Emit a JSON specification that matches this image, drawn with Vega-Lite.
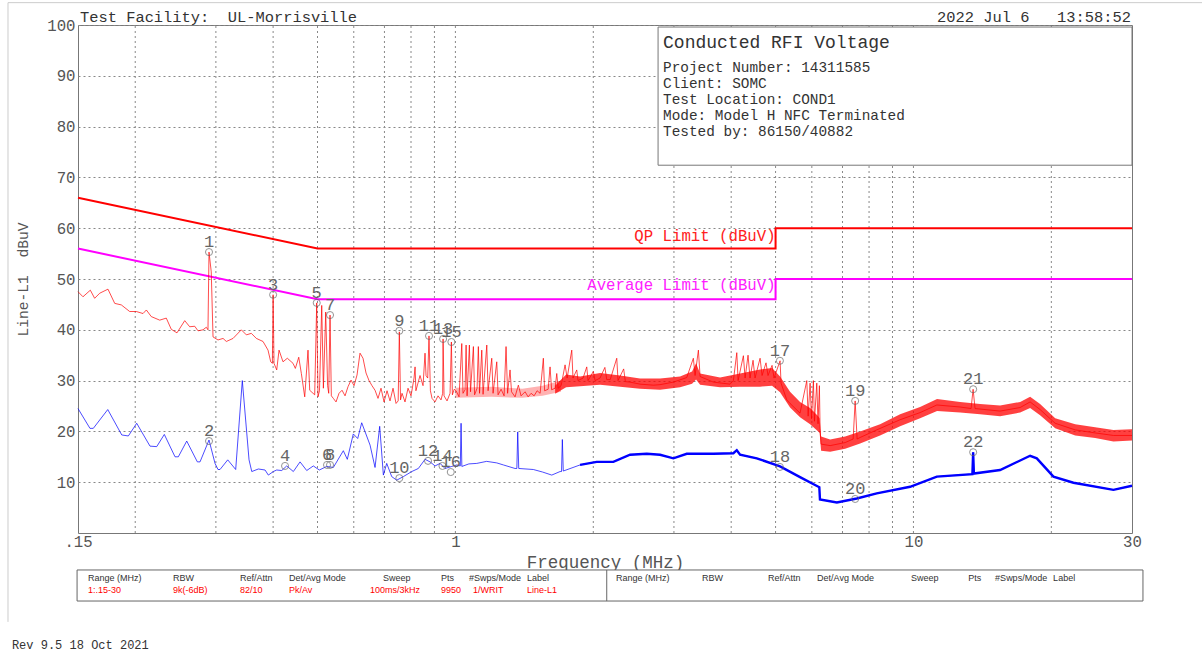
{
"$schema":"https://vega.github.io/schema/vega-lite/v6.json",
"width":1054,"height":508,"autosize":"none",
"padding":{"left":78,"top":25,"right":70,"bottom":121},
"background":"white",
"config":{"view":{"stroke":"#777","strokeWidth":1},
"axis":{"labelFont":"Liberation Mono","labelFontSize":15.7,"labelColor":"#555","titleFont":"Liberation Mono","titleFontWeight":"normal","titleColor":"#555"},
"axisX":{"titleFontSize":17.5},"axisY":{"titleFontSize":14.6}},
"datasets":{
"xgrid":[{"f":0.2,"v":0,"v2":100},{"f":0.3,"v":0,"v2":100},{"f":0.4,"v":0,"v2":100},{"f":0.5,"v":0,"v2":100},{"f":0.6,"v":0,"v2":100},{"f":0.7,"v":0,"v2":100},{"f":0.8,"v":0,"v2":100},{"f":0.9,"v":0,"v2":100},{"f":1,"v":0,"v2":100},{"f":2,"v":0,"v2":100},{"f":3,"v":0,"v2":100},{"f":4,"v":0,"v2":100},{"f":5,"v":0,"v2":100},{"f":6,"v":0,"v2":100},{"f":7,"v":0,"v2":100},{"f":8,"v":0,"v2":100},{"f":9,"v":0,"v2":100},{"f":10,"v":0,"v2":100},{"f":20,"v":0,"v2":100}],
"qp":[{"f":0.15,"v":66,"o":1},{"f":0.5,"v":56,"o":2},{"f":5,"v":56,"o":3},{"f":5,"v":60,"o":4},{"f":30,"v":60,"o":5}],
"avg":[{"f":0.15,"v":56,"o":1},{"f":0.5,"v":46,"o":2},{"f":5,"v":46,"o":3},{"f":5,"v":50,"o":4},{"f":30,"v":50,"o":5}],
"infobox":[{"f":2.77,"f2":30,"v":99.6,"v2":72.4}],
"infotitle":[{"f":2.84,"v":96.4,"t":"Conducted RFI Voltage"}],
"info":[{"f":2.84,"v":91.6,"t":"Project Number: 14311585"},{"f":2.84,"v":88.3,"t":"Client: SOMC"},{"f":2.84,"v":85.2,"t":"Test Location: COND1"},{"f":2.84,"v":82.1,"t":"Mode: Model H NFC Terminated"},{"f":2.84,"v":79.0,"t":"Tested by: 86150/40882"}],
"headl":[{"f":0.1515,"v":101.6,"t":"Test Facility:\u00a0\u00a0UL-Morrisville"}],
"footer":[{"f":0.1076,"v":-22.0,"t":"Rev 9.5 18 Oct 2021"}],
"headr":[{"f":29.85,"v":101.6,"t":"2022 Jul 6\u00a0\u00a0\u00a013:58:52"}],
"qplab":[{"f":5.0,"v":58.5,"t":"QP Limit (dBuV)"}],
"avlab":[{"f":5.0,"v":48.8,"t":"Average Limit (dBuV)"}],
"blue":[{"f":0.15,"v":24.5},{"f":0.1593,"v":20.6},{"f":0.162,"v":20.6},{"f":0.1742,"v":24.3},{"f":0.1869,"v":19.3},{"f":0.1932,"v":19.1},{"f":0.2015,"v":21.6},{"f":0.2154,"v":17.1},{"f":0.2228,"v":17.0},{"f":0.2315,"v":19.4},{"f":0.2443,"v":15.0},{"f":0.2484,"v":15.0},{"f":0.2591,"v":18.1},{"f":0.2733,"v":14.0},{"f":0.277,"v":14.0},{"f":0.2898,"v":18.3},{"f":0.2987,"v":13.7},{"f":0.3032,"v":12.5},{"f":0.3063,"v":12.5},{"f":0.3184,"v":14.4},{"f":0.3314,"v":12.5},{"f":0.3426,"v":30.0},{"f":0.3544,"v":14.4},{"f":0.3593,"v":12.1},{"f":0.3714,"v":12.6},{"f":0.3841,"v":12.4},{"f":0.3905,"v":11.4},{"f":0.4004,"v":12.1},{"f":0.4073,"v":12.4},{"f":0.4177,"v":12.3},{"f":0.4283,"v":13.2},{"f":0.4428,"v":12.1},{"f":0.458,"v":14.0},{"f":0.4736,"v":12.3},{"f":0.4896,"v":13.2},{"f":0.5046,"v":12.4},{"f":0.5237,"v":13.1},{"f":0.5414,"v":12.9},{"f":0.5693,"v":16.2},{"f":0.5808,"v":14.5},{"f":0.5986,"v":19.5},{"f":0.612,"v":18.6},{"f":0.6244,"v":21.7},{"f":0.6512,"v":17.3},{"f":0.6677,"v":12.9},{"f":0.6835,"v":21.0},{"f":0.6962,"v":11.4},{"f":0.7081,"v":13.7},{"f":0.7261,"v":11.1},{"f":0.7446,"v":10.4},{"f":0.7698,"v":11.1},{"f":0.803,"v":12.1},{"f":0.8301,"v":12.7},{"f":0.8584,"v":14.5},{"f":0.8804,"v":14.0},{"f":0.9029,"v":13.2},{"f":0.9258,"v":13.7},{"f":0.9493,"v":12.7},{"f":0.9818,"v":13.1},{"f":1.007,"v":13.4},{"f":1.025,"v":13.2},{"f":1.0289,"v":21.6},{"f":1.033,"v":13.1},{"f":1.07,"v":13.6},{"f":1.1135,"v":13.7},{"f":1.17,"v":14.1},{"f":1.2311,"v":13.8},{"f":1.2726,"v":13.4},{"f":1.3496,"v":12.7},{"f":1.362,"v":12.7},{"f":1.368,"v":19.9},{"f":1.375,"v":12.7},{"f":1.4798,"v":12.5},{"f":1.55,"v":12.0},{"f":1.6233,"v":11.4},{"f":1.6924,"v":12.1},{"f":1.705,"v":12.1},{"f":1.712,"v":18.4},{"f":1.72,"v":12.2},{"f":1.8714,"v":13.4},{"f":2.035,"v":14.0},{"f":2.2123,"v":14.0},{"f":2.406,"v":15.4},{"f":2.617,"v":15.6},{"f":2.7978,"v":15.4},{"f":2.9916,"v":14.7},{"f":3.1995,"v":15.6},{"f":3.6576,"v":15.6},{"f":4.0449,"v":15.7},{"f":4.1144,"v":16.3},{"f":4.1832,"v":15.4},{"f":4.5498,"v":14.7},{"f":5.1144,"v":13.1},{"f":5.6546,"v":11.0},{"f":6.2012,"v":9.1},{"f":6.23,"v":9.0},{"f":6.25,"v":6.6},{"f":6.8043,"v":6.0},{"f":7.5227,"v":6.8},{"f":8.3154,"v":7.8},{"f":9.833,"v":9.1},{"f":11.248,"v":11.1},{"f":13.45,"v":11.6},{"f":13.5,"v":15.9},{"f":13.55,"v":11.7},{"f":15.459,"v":12.4},{"f":17.976,"v":15.2},{"f":18.59,"v":14.7},{"f":20.21,"v":11.1},{"f":22.35,"v":9.9},{"f":27.33,"v":8.5},{"f":30,"v":9.3}],
"red":[{"f":0.15,"v":47.5},{"f":0.1538,"v":46.5},{"f":0.1596,"v":47.8},{"f":0.1631,"v":46.2},{"f":0.1673,"v":47.2},{"f":0.1744,"v":48.0},{"f":0.1804,"v":45.2},{"f":0.1865,"v":44.9},{"f":0.1945,"v":43.6},{"f":0.2011,"v":43.6},{"f":0.208,"v":43.2},{"f":0.2115,"v":43.9},{"f":0.2168,"v":42.6},{"f":0.2262,"v":41.9},{"f":0.2338,"v":42.3},{"f":0.2397,"v":40.1},{"f":0.2467,"v":39.4},{"f":0.2565,"v":41.8},{"f":0.263,"v":40.6},{"f":0.2697,"v":40.7},{"f":0.2742,"v":39.8},{"f":0.2812,"v":40.0},{"f":0.2859,"v":40.5},{"f":0.2883,"v":40.0},{"f":0.2898,"v":55.3},{"f":0.2931,"v":51.4},{"f":0.2957,"v":38.6},{"f":0.3032,"v":38.0},{"f":0.311,"v":38.3},{"f":0.3162,"v":37.7},{"f":0.327,"v":38.3},{"f":0.3409,"v":40.0},{"f":0.3497,"v":39.0},{"f":0.3585,"v":39.3},{"f":0.3677,"v":38.3},{"f":0.3802,"v":37.7},{"f":0.3899,"v":36.0},{"f":0.3952,"v":33.7},{"f":0.3985,"v":33.4},{"f":0.4,"v":46.9},{"f":0.4018,"v":33.4},{"f":0.4073,"v":32.1},{"f":0.4121,"v":36.0},{"f":0.4204,"v":33.7},{"f":0.4296,"v":34.4},{"f":0.4421,"v":33.4},{"f":0.4473,"v":32.4},{"f":0.455,"v":34.6},{"f":0.461,"v":31.4},{"f":0.4689,"v":26.8},{"f":0.4767,"v":36.0},{"f":0.4808,"v":28.1},{"f":0.493,"v":27.2},{"f":0.498,"v":45.3},{"f":0.5013,"v":26.8},{"f":0.505,"v":28.0},{"f":0.5107,"v":44.8},{"f":0.515,"v":28.5},{"f":0.5211,"v":43.5},{"f":0.526,"v":29.0},{"f":0.529,"v":27.5},{"f":0.5325,"v":42.9},{"f":0.536,"v":27.0},{"f":0.5414,"v":26.5},{"f":0.5488,"v":25.8},{"f":0.5571,"v":27.5},{"f":0.5656,"v":28.1},{"f":0.5742,"v":27.0},{"f":0.5829,"v":28.8},{"f":0.5918,"v":30.1},{"f":0.6008,"v":29.0},{"f":0.6099,"v":31.1},{"f":0.6191,"v":35.4},{"f":0.6285,"v":34.4},{"f":0.6381,"v":31.5},{"f":0.6478,"v":30.0},{"f":0.6576,"v":29.0},{"f":0.6677,"v":28.1},{"f":0.6778,"v":26.5},{"f":0.6881,"v":28.5},{"f":0.6986,"v":25.8},{"f":0.7092,"v":28.0},{"f":0.7199,"v":26.0},{"f":0.7309,"v":28.5},{"f":0.742,"v":25.5},{"f":0.75,"v":26.0},{"f":0.7544,"v":39.6},{"f":0.759,"v":26.2},{"f":0.7647,"v":27.5},{"f":0.7763,"v":25.8},{"f":0.7881,"v":28.5},{"f":0.8001,"v":27.0},{"f":0.8123,"v":30.5},{"f":0.8165,"v":32.7},{"f":0.82,"v":28.0},{"f":0.8371,"v":31.0},{"f":0.8499,"v":29.0},{"f":0.8584,"v":35.4},{"f":0.8628,"v":31.0},{"f":0.87,"v":30.5},{"f":0.8758,"v":38.8},{"f":0.882,"v":28.0},{"f":0.8892,"v":26.5},{"f":0.9027,"v":25.8},{"f":0.9164,"v":27.0},{"f":0.9304,"v":26.2},{"f":0.938,"v":27.5},{"f":0.94,"v":38.2},{"f":0.9445,"v":27.0},{"f":0.9589,"v":26.0},{"f":0.9735,"v":27.5},{"f":0.98,"v":37.6},{"f":0.985,"v":27.2},{"f":0.994,"v":28.3},{"f":1.0033,"v":28.0},{"f":1.0186,"v":26.8},{"f":1.0326,"v":37.3},{"f":1.039,"v":27.5},{"f":1.0498,"v":28.2},{"f":1.0553,"v":37.0},{"f":1.0605,"v":27.0},{"f":1.0729,"v":37.0},{"f":1.079,"v":27.8},{"f":1.0947,"v":36.7},{"f":1.1013,"v":27.2},{"f":1.1151,"v":28.5},{"f":1.1223,"v":36.7},{"f":1.129,"v":27.5},{"f":1.1418,"v":36.0},{"f":1.1493,"v":27.3},{"f":1.1709,"v":37.0},{"f":1.1786,"v":28.0},{"f":1.2006,"v":34.4},{"f":1.2085,"v":27.5},{"f":1.2311,"v":33.7},{"f":1.2394,"v":27.2},{"f":1.2583,"v":28.3},{"f":1.2774,"v":27.0},{"f":1.29,"v":36.7},{"f":1.3,"v":27.5},{"f":1.3161,"v":32.1},{"f":1.326,"v":27.8},{"f":1.3496,"v":26.8},{"f":1.3723,"v":29.1},{"f":1.391,"v":27.0},{"f":1.4197,"v":27.8},{"f":1.4413,"v":26.8},{"f":1.4632,"v":27.5},{"f":1.4854,"v":27.0},{"f":1.508,"v":28.0},{"f":1.5309,"v":27.5},{"f":1.556,"v":34.4},{"f":1.566,"v":28.0},{"f":1.594,"v":28.3},{"f":1.6094,"v":32.7},{"f":1.622,"v":28.2},{"f":1.6509,"v":28.5},{"f":1.6645,"v":31.4},{"f":1.676,"v":28.5},{"f":1.7015,"v":29.0},{"f":1.7355,"v":33.1},{"f":1.7536,"v":30.5},{"f":1.7948,"v":36.0},{"f":1.806,"v":30.5},{"f":1.8406,"v":32.1},{"f":1.852,"v":30.0},{"f":1.9,"v":30.5},{"f":1.9354,"v":32.7},{"f":1.948,"v":30.0},{"f":2.0007,"v":31.8},{"f":2.018,"v":30.0},{"f":2.0691,"v":30.5},{"f":2.12,"v":32.6},{"f":2.14,"v":30.2},{"f":2.178,"v":30.2},{"f":2.2504,"v":34.4},{"f":2.265,"v":30.0},{"f":2.33,"v":32.3},{"f":2.35,"v":29.8},{"f":2.406,"v":29.7},{"f":2.5305,"v":29.3},{"f":2.7053,"v":29.1},{"f":2.7978,"v":29.2},{"f":2.9916,"v":29.7},{"f":3.1995,"v":30.6},{"f":3.3075,"v":34.4},{"f":3.336,"v":31.0},{"f":3.3924,"v":36.0},{"f":3.4215,"v":30.8},{"f":3.6576,"v":29.7},{"f":3.9783,"v":29.3},{"f":4.0449,"v":30.0},{"f":4.1144,"v":35.5},{"f":4.142,"v":30.0},{"f":4.2533,"v":34.9},{"f":4.29,"v":30.5},{"f":4.354,"v":35.0},{"f":4.398,"v":30.5},{"f":4.465,"v":34.0},{"f":4.51,"v":30.5},{"f":4.6259,"v":34.4},{"f":4.672,"v":31.0},{"f":4.766,"v":33.5},{"f":4.814,"v":31.0},{"f":4.9125,"v":33.0},{"f":4.962,"v":30.5},{"f":5.1144,"v":33.9},{"f":5.14,"v":29.5},{"f":5.2893,"v":26.2},{"f":5.3777,"v":25.5},{"f":5.6546,"v":23.6},{"f":5.85,"v":30.0},{"f":5.89,"v":23.0},{"f":5.9478,"v":29.5},{"f":5.99,"v":22.5},{"f":6.0474,"v":30.0},{"f":6.08,"v":22.0},{"f":6.1514,"v":29.5},{"f":6.19,"v":21.5},{"f":6.2327,"v":29.0},{"f":6.2543,"v":20.5},{"f":6.2859,"v":17.5},{"f":6.578,"v":17.2},{"f":7.0944,"v":17.8},{"f":7.385,"v":18.5},{"f":7.4595,"v":26.0},{"f":7.534,"v":18.5},{"f":7.6485,"v":18.8},{"f":8.3154,"v":20.3},{"f":9.3515,"v":22.3},{"f":10.3395,"v":23.7},{"f":11.248,"v":25.2},{"f":12.645,"v":24.8},{"f":13.36,"v":24.5},{"f":13.497,"v":28.3},{"f":13.63,"v":24.5},{"f":15.459,"v":24.0},{"f":17.1,"v":24.7},{"f":17.976,"v":25.8},{"f":18.9,"v":24.3},{"f":20.39,"v":21.6},{"f":22.55,"v":20.3},{"f":24.93,"v":19.7},{"f":27.33,"v":19.2},{"f":30,"v":19.2}],
"band1":[{"f":1.0,"v":26.6,"v2":28.6},{"f":1.2,"v":26.8,"v2":28.8},{"f":1.4,"v":26.6,"v2":28.4},{"f":1.55,"v":27.0,"v2":29.0},{"f":1.7,"v":27.8,"v2":30.0}],
"band2":[{"f":1.6509,"v":27.4,"v2":29.0},{"f":1.7448,"v":28.7,"v2":31.2},{"f":1.8714,"v":28.9,"v2":30.8},{"f":2.0691,"v":29.2,"v2":31.5},{"f":2.2881,"v":28.8,"v2":31.0},{"f":2.5305,"v":28.4,"v2":30.4},{"f":2.7978,"v":28.2,"v2":30.4},{"f":3.0938,"v":28.7,"v2":30.8},{"f":3.2862,"v":29.4,"v2":31.8},{"f":3.3528,"v":30.2,"v2":33.4},{"f":3.4215,"v":29.2,"v2":31.4},{"f":3.7827,"v":28.7,"v2":30.6},{"f":4.1832,"v":28.8,"v2":31.4},{"f":4.6259,"v":28.8,"v2":32.2},{"f":4.9125,"v":29.0,"v2":32.5},{"f":5.1144,"v":27.7,"v2":30.8},{"f":5.3777,"v":24.7,"v2":27.8},{"f":5.6546,"v":22.8,"v2":25.8},{"f":5.9478,"v":21.4,"v2":24.6},{"f":6.195,"v":20.0,"v2":23.0},{"f":6.24,"v":19.7,"v2":22.6},{"f":6.2859,"v":16.2,"v2":19.0},{"f":6.578,"v":16.0,"v2":18.4},{"f":7.0944,"v":16.6,"v2":19.0},{"f":7.6485,"v":17.6,"v2":20.0},{"f":8.4546,"v":19.2,"v2":21.4},{"f":9.3515,"v":21.0,"v2":23.4},{"f":10.3395,"v":22.6,"v2":24.8},{"f":11.26,"v":24.0,"v2":26.4},{"f":12.645,"v":23.7,"v2":25.8},{"f":13.98,"v":23.4,"v2":25.4},{"f":15.459,"v":23.0,"v2":25.1},{"f":17.1,"v":23.7,"v2":25.8},{"f":17.976,"v":24.6,"v2":26.8},{"f":18.9,"v":23.2,"v2":25.4},{"f":20.39,"v":20.6,"v2":22.6},{"f":22.55,"v":19.2,"v2":21.4},{"f":24.93,"v":18.7,"v2":20.8},{"f":27.33,"v":18.0,"v2":20.3},{"f":30,"v":18.2,"v2":20.4}],
"markers":[{"n":"1","f":0.2898,"v":55.3},{"n":"2","f":0.2898,"v":18.1},{"n":"3","f":0.4,"v":46.9},{"n":"4","f":0.4247,"v":13.2},{"n":"5","f":0.498,"v":45.3},{"n":"6","f":0.5245,"v":13.4},{"n":"7","f":0.5325,"v":42.9},{"n":"8","f":0.5325,"v":13.4},{"n":"9","f":0.7544,"v":39.8},{"n":"10","f":0.7544,"v":10.8},{"n":"11","f":0.8758,"v":38.8},{"n":"12","f":0.8715,"v":14.2},{"n":"13","f":0.94,"v":38.2},{"n":"14","f":0.937,"v":13.2},{"n":"15","f":0.98,"v":37.6},{"n":"16","f":0.977,"v":12.0},{"n":"17","f":5.11,"v":33.9},{"n":"18","f":5.11,"v":13.0},{"n":"19","f":7.46,"v":26.0},{"n":"20","f":7.46,"v":6.7},{"n":"21","f":13.5,"v":28.3},{"n":"22","f":13.5,"v":15.9}],
"tbox":[{"f":0.1493,"f2":31.7,"v":-7.28,"v2":-13.39}],
"tdiv":[{"f":2.14,"v":-7.28,"v2":-13.39}],
"th":[{"f":0.1577,"v":-8.86,"t":"Range (MHz)"},{"f":0.2418,"v":-8.86,"t":"RBW"},{"f":0.3387,"v":-8.86,"t":"Ref/Attn"},{"f":0.4332,"v":-8.86,"t":"Det/Avg Mode"},{"f":0.6953,"v":-8.86,"t":"Sweep"},{"f":0.9303,"v":-8.86,"t":"Pts"},{"f":1.071,"v":-8.86,"t":"#Swps/Mode"},{"f":1.4336,"v":-8.86,"t":"Label"},{"f":2.2428,"v":-8.86,"t":"Range (MHz)"},{"f":3.456,"v":-8.86,"t":"RBW"},{"f":4.8148,"v":-8.86,"t":"Ref/Attn"},{"f":6.1605,"v":-8.86,"t":"Det/Avg Mode"},{"f":9.882,"v":-8.86,"t":"Sweep"},{"f":13.164,"v":-8.86,"t":"Pts"},{"f":15.076,"v":-8.86,"t":"#Swps/Mode"},{"f":20.18,"v":-8.86,"t":"Label"}],
"tv":[{"f":0.1577,"v":-11.22,"t":"1:.15-30"},{"f":0.2418,"v":-11.22,"t":"9k(-6dB)"},{"f":0.3387,"v":-11.22,"t":"82/10"},{"f":0.4332,"v":-11.22,"t":"Pk/Av"},{"f":0.6512,"v":-11.22,"t":"100ms/3kHz"},{"f":0.9303,"v":-11.22,"t":"9950"},{"f":1.0928,"v":-11.22,"t":"1/WRIT"},{"f":1.4336,"v":-11.22,"t":"Line-L1"}],
"borderl":[{"f":0.1055,"v":104.4,"v2":-17.5}],
"bordert":[{"f":0.1055,"f2":45,"v":104.4}]
},
"encoding":{
 "x":{"field":"f","type":"quantitative","scale":{"type":"log","domain":[0.15,30],"nice":false},
   "axis":{"values":[0.15,1,10,30],"format":"~g","labelExpr":"datum.value < 0.2 ? '.15' : datum.label","title":"Frequency (MHz)","grid":false,"ticks":false,"domain":false,"labelFlush":false,"labelOverlap":false,"labelPadding":1,"titlePadding":5}},
 "y":{"field":"v","type":"quantitative","scale":{"domain":[0,100],"nice":false,"zero":false},
   "axis":{"values":[10,20,30,40,50,60,70,80,90,100],"title":"Line-L1\u00a0\u00a0dBuV","grid":true,"gridDash":[2,3],"gridColor":"#888","ticks":false,"domain":false,"labelPadding":3,"titlePadding":16}}
},
"layer":[
{"data":{"name":"xgrid"},"mark":{"type":"rule","stroke":"#888","strokeDash":[2,3],"strokeWidth":1},"encoding":{"y2":{"field":"v2"}}},
{"data":{"name":"infobox"},"mark":{"type":"rect","fill":"white","stroke":"#777","strokeWidth":1},"encoding":{"x2":{"field":"f2"},"y2":{"field":"v2"}}},
{"data":{"name":"infotitle"},"mark":{"type":"text","font":"Liberation Mono","fontSize":18,"color":"#333","align":"left","baseline":"middle"},"encoding":{"text":{"field":"t"}}},
{"data":{"name":"info"},"mark":{"type":"text","font":"Liberation Mono","fontSize":14.4,"color":"#333","align":"left","baseline":"middle"},"encoding":{"text":{"field":"t"}}},
{"data":{"name":"headl"},"mark":{"type":"text","font":"Liberation Mono","fontSize":15.4,"color":"#333","align":"left","baseline":"middle"},"encoding":{"text":{"field":"t"}}},
{"data":{"name":"headr"},"mark":{"type":"text","font":"Liberation Mono","fontSize":15.4,"color":"#333","align":"right","baseline":"middle"},"encoding":{"text":{"field":"t"}}},
{"data":{"name":"footer"},"mark":{"type":"text","font":"Liberation Mono","fontSize":12,"color":"#333","align":"left","baseline":"middle"},"encoding":{"text":{"field":"t"}}},
{"data":{"name":"qp"},"mark":{"type":"line","stroke":"#ff0000","strokeWidth":2},"encoding":{"order":{"field":"o"}}},
{"data":{"name":"avg"},"mark":{"type":"line","stroke":"#ff00ff","strokeWidth":2},"encoding":{"order":{"field":"o"}}},
{"data":{"name":"qplab"},"mark":{"type":"text","font":"Liberation Mono","fontSize":15.7,"color":"#ff2020","align":"right","baseline":"middle"},"encoding":{"text":{"field":"t"}}},
{"data":{"name":"avlab"},"mark":{"type":"text","font":"Liberation Mono","fontSize":15.7,"color":"#ff20ff","align":"right","baseline":"middle"},"encoding":{"text":{"field":"t"}}},
{"data":{"name":"blue"},"mark":{"type":"line","stroke":"#0000ff","strokeWidth":1,"opacity":0.7}},
{"data":{"name":"blue"},"transform":[{"filter":"datum.f >= 1.75"}],"mark":{"type":"line","stroke":"#0000ff","strokeWidth":2.4}},
{"data":{"name":"band1"},"mark":{"type":"area","color":"#ff0000","opacity":0.3},"encoding":{"y2":{"field":"v2"}}},
{"data":{"name":"band2"},"mark":{"type":"area","color":"#ff0000","opacity":0.75},"encoding":{"y2":{"field":"v2"}}},
{"data":{"name":"red"},"mark":{"type":"line","stroke":"#ff0000","strokeWidth":1,"opacity":0.7}},
{"data":{"name":"markers"},"mark":{"type":"point","shape":"circle","filled":false,"size":50,"stroke":"#666","strokeWidth":1}},
{"data":{"name":"markers"},"mark":{"type":"text","font":"Liberation Mono","fontSize":17,"color":"#666","align":"center","baseline":"alphabetic","dy":-5},"encoding":{"text":{"field":"n"}}},
{"data":{"name":"tbox"},"mark":{"type":"rect","fill":"white","stroke":"#666","strokeWidth":1},"encoding":{"x2":{"field":"f2"},"y2":{"field":"v2"}}},
{"data":{"name":"tdiv"},"mark":{"type":"rule","stroke":"#666","strokeWidth":1},"encoding":{"y2":{"field":"v2"}}},
{"data":{"name":"th"},"mark":{"type":"text","font":"Liberation Sans Narrow, Liberation Sans","fontSize":9,"color":"#333","align":"left","baseline":"middle"},"encoding":{"text":{"field":"t"}}},
{"data":{"name":"tv"},"mark":{"type":"text","font":"Liberation Sans Narrow, Liberation Sans","fontSize":9,"color":"#ff0000","align":"left","baseline":"middle"},"encoding":{"text":{"field":"t"}}},
{"data":{"name":"borderl"},"mark":{"type":"rule","stroke":"#ccc","strokeWidth":1},"encoding":{"y2":{"field":"v2"}}},
{"data":{"name":"bordert"},"mark":{"type":"rule","stroke":"#ccc","strokeWidth":1},"encoding":{"x2":{"field":"f2"}}}
]
}
